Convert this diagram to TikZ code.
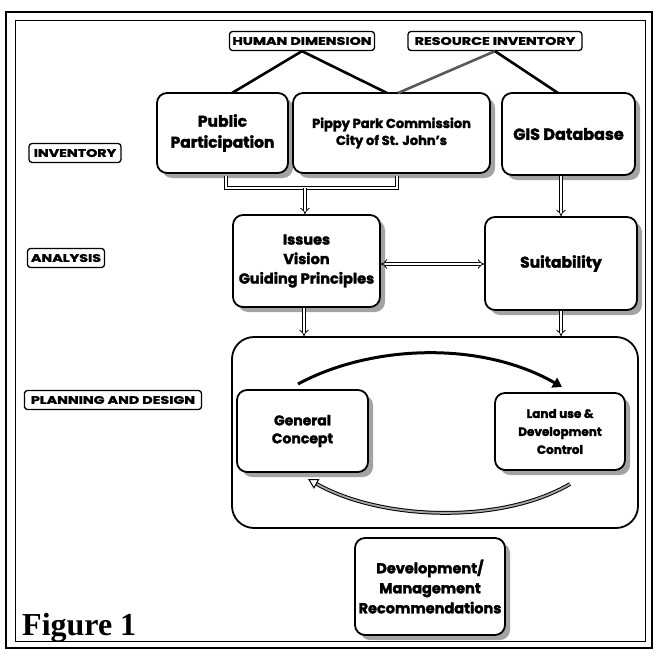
\documentclass[tikz,border=0pt]{standalone}
\usepackage{fontspec}
\setmainfont{Poppins}[BoldFeatures={FakeBold=2}]
\newfontfamily\labfont{Poppins}[FakeStretch=1.3, BoldFeatures={FakeBold=2}]
\newfontfamily\figfont{Liberation Serif}
\usetikzlibrary{shadows,arrows.meta}
\begin{document}
\begin{tikzpicture}[x=1pt,y=-1pt,
  lab/.style={draw, rounded corners=3pt, line width=1.3pt, font=\labfont\bfseries\fontsize{11}{12}\selectfont, inner sep=1pt, minimum height=19pt},
  box/.style={draw, rounded corners=10pt, line width=1.8pt, fill=white, align=center, inner sep=1pt,
     drop shadow={shadow xshift=5pt, shadow yshift=-5pt, fill=black!45, opacity=0.8}},
  hol/.style={double, double distance=2.4pt, line width=0.8pt, -{Implies}},
  thk/.style={line width=2.6pt}
]
\useasboundingbox (0,0) rectangle (656,656);
% frame
\draw[line width=1.6pt] (6,12) rectangle (652,648);
\draw[line width=0.9pt] (15,20) rectangle (645,641);

% labels
\node[lab, minimum width=145pt] (hd) at (302,41) {HUMAN DIMENSION};
\node[lab, minimum width=174pt] (ri) at (495,41) {RESOURCE INVENTORY};
\node[lab, minimum width=92pt] (inv) at (75,153) {INVENTORY};
\node[lab, minimum width=77pt] (ana) at (66,258) {ANALYSIS};
\node[lab, minimum width=177pt] (pd) at (113,400) {PLANNING AND DESIGN};

% inventory row
\node[box, minimum width=131pt, minimum height=80pt, font=\bfseries\fontsize{15.5}{21}\selectfont] (pp) at (222.5,133) {Public\\Participation};
\node[box, minimum width=197pt, minimum height=80pt, font=\bfseries\fontsize{13}{17}\selectfont] (pk) at (391.5,133) {Pippy Park Commission\\City of St. John's};
\node[box, minimum width=133pt, minimum height=82pt, font=\bfseries\fontsize{16}{19}\selectfont] (gis) at (568.5,134) {GIS Database};

% analysis row
\node[box, minimum width=147pt, minimum height=92pt, font=\bfseries\fontsize{14.5}{19.5}\selectfont] (iss) at (306.5,261) {Issues\\Vision\\Guiding Principles};
\node[box, minimum width=152pt, minimum height=93pt, font=\bfseries\fontsize{15.5}{18}\selectfont] (suit) at (561,263.5) {Suitability};

% planning
\node[draw, rounded corners=22pt, line width=1.8pt, minimum width=406pt, minimum height=191pt] (plan) at (435,432.5) {};
\node[box, minimum width=131pt, minimum height=82pt, font=\bfseries\fontsize{14}{18}\selectfont] (gc) at (302.5,431) {General\\Concept};
\node[box, minimum width=130pt, minimum height=77pt, font=\bfseries\fontsize{12}{18}\selectfont] (lu) at (560,431.5) {Land use \&\\Development\\Control};

% recommendations
\node[box, minimum width=150pt, minimum height=97pt, font=\bfseries\fontsize{14.5}{20}\selectfont] (dev) at (430,586.5) {Development/\\Management\\Recommendations};

\node[font=\figfont\bfseries\fontsize{32}{34}\selectfont, anchor=base west, inner sep=0pt] (fig) at (22,635) {Figure 1};

% connectors from header labels
\draw[thk] (hd.south) -- (232,93);
\draw[thk] (hd.south) -- (387,93);
\draw[thk, black!65] (ri.south) -- (398,93);
\draw[thk] (ri.south) -- (558,93);

% bracket under public / pippy
\coordinate (bl) at (226,188);
\coordinate (brr) at (397,188);
\coordinate (bm) at (305,188);
\draw[double, double distance=2.4pt, line width=0.8pt] (226,176) -- (bl) -- (brr) -- (397,176);
\draw[hol] (bm) -- (bm |- iss.north);
\draw[hol] (gis.south -| 561,0) -- (suit.north);

% analysis connectors
\draw[double, double distance=2.4pt, line width=0.8pt, {Implies}-{Implies}] (iss.east |- 0,264) -- (suit.west |- 0,264);
\draw[hol] (iss.south -| 304,0) -- (plan.north -| 304,0);
\draw[hol] (suit.south) -- (plan.north -| suit.south);

% cycle arrows
\coordinate (ta) at (298,384);
\coordinate (tb) at (562,387);
\draw[line width=3pt, -{Triangle[length=9pt,width=11pt]}] (ta) .. controls (370,345) and (480,340) .. (tb);
\coordinate (ba) at (570,484);
\coordinate (bb) at (308,479);
\draw[double=black!35, double distance=1.8pt, line width=1pt, -{Triangle[open,length=10pt,width=11pt]}] (ba) .. controls (500,525) and (380,520) .. (bb);
\end{tikzpicture}
\end{document}
